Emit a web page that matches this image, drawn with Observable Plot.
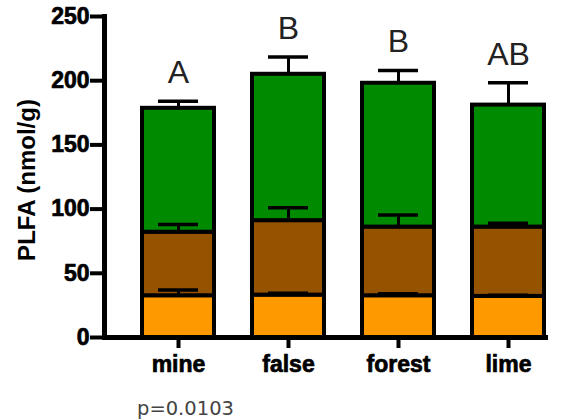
<!DOCTYPE html>
<html>
<head>
<meta charset="utf-8">
<script src="https://cdn.jsdelivr.net/npm/d3@7"></script>
<script src="https://cdn.jsdelivr.net/npm/@observablehq/plot@0.6"></script>
<style>
  html, body { margin: 0; padding: 0; background: #fff; }
  body { position: relative; width: 576px; height: 420px; overflow: hidden; }
  #cap { position: absolute; left: 137px; top: 397px; font: 19.5px "DejaVu Sans"; color: #444; }
  g[aria-label="y-axis tick label"] text, g[aria-label="x-axis tick label"] text { stroke: black; stroke-width: 0.7px; }
</style>
</head>
<body>
<div id="chart"></div>
<div id="cap"></div>
<script>
// ---- data ----
const sites = ["mine", "false", "forest", "lime"];
const groups = ["lower", "middle", "upper"];        // stacking order, bottom to top
const lowerVals  = [32.5, 33, 32.5, 32];
const middleVals = [49.5, 58, 53.5, 54];
const upperVals  = [96.5, 114, 112, 95];
const lowerErr   = [4.5, 1.5, 1.5, 1];
const middleErr  = [6, 10, 9.5, 3];
const upperErr   = [5.5, 13.5, 10, 17.5];
const letters    = ["A", "B", "B", "AB"];
const yTicks     = [0, 50, 100, 150, 200, 250];
const yLabel     = "PLFA (nmol/g)";
const pValue     = "p=0.0103";
const colors     = ["#ff9900", "#955300", "#008a00"];

// ---- build stacked table ----
const segVals = {lower: lowerVals, middle: middleVals, upper: upperVals};
const segErr  = {lower: lowerErr, middle: middleErr, upper: upperErr};
const segs = [];
sites.forEach((s, i) => {
  let base = 0;
  for (const g of groups) {
    const v = segVals[g][i];
    segs.push({site: s, group: g, y1: base, y2: base + v, err: base + v + segErr[g][i]});
    base += v;
  }
});
const tops = segs.filter(d => d.group === "upper").map((d, i) => ({site: d.site, y: d.err, letter: letters[i]}));

const chart = Plot.plot({
  width: 576,
  height: 385,
  marginLeft: 104,
  marginRight: 28,
  marginTop: 16,
  marginBottom: 48,
  style: {fontFamily: "Liberation Sans", background: "white", overflow: "visible"},
  x: {type: "band", domain: sites, range: [141, 545], paddingInner: 0.35, paddingOuter: 0, label: null},
  y: {domain: [0, 250], ticks: yTicks, label: null},
  color: {type: "ordinal", domain: groups, range: colors},
  marks: [
    Plot.barY(segs, {x: "site", y1: "y1", y2: "y2", fill: "group", stroke: "black", strokeWidth: 4}),
    Plot.ruleX(segs, {x: "site", y1: "y2", y2: "err", stroke: "black", strokeWidth: 3}),
    Plot.tickY(segs, {x: "site", y: "err", stroke: "black", strokeWidth: 3.5, insetLeft: 16, insetRight: 16}),
    Plot.text(tops, {x: "site", y: "y", text: "letter", dy: -18, lineAnchor: "bottom", fontSize: 32, fill: "#222", fontFamily: "Liberation Sans"}),
    Plot.frame({anchor: "left", strokeWidth: 5, stroke: "black"}),
    Plot.ruleY([0], {strokeWidth: 5, stroke: "black"}),
    Plot.axisY({ticks: yTicks, tickSize: 14, tickPadding: 1, strokeWidth: 4, fontSize: 23, fontWeight: "bold", fill: "black", label: null}),
    Plot.axisX({tickSize: 11, tickPadding: 7, strokeWidth: 4, fontSize: 23, fontWeight: "bold", fill: "black", label: null}),
    Plot.text([yLabel], {frameAnchor: "left", textAnchor: "middle", rotate: -90, dx: -77, dy: 3, fontSize: 24, fontWeight: "bold", fill: "black"})
  ]
});
document.getElementById("chart").appendChild(chart);
document.getElementById("cap").textContent = pValue;
</script>
</body>
</html>
